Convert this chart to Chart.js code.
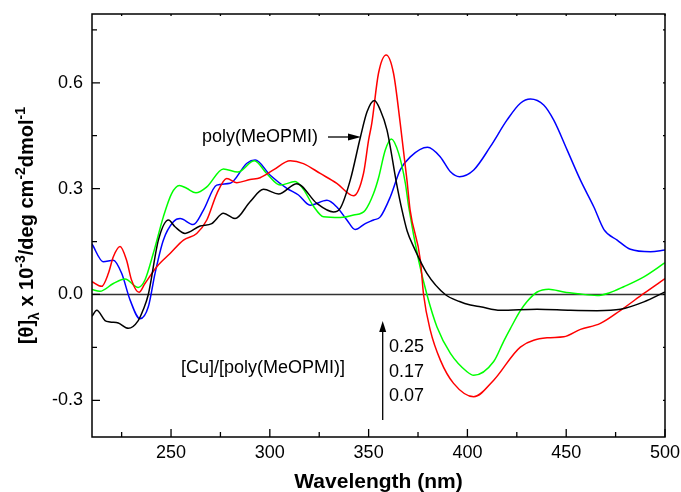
<!DOCTYPE html>
<html>
<head>
<meta charset="utf-8">
<script src="https://cdn.jsdelivr.net/npm/chart.js@4"></script>
<style>
html,body{margin:0;padding:0;background:#fff;}
#wrap{width:681px;height:492px;position:relative;}
</style>
</head>
<body>
<div id="wrap"><canvas id="c" width="681" height="492"></canvas></div>
<script>
// ---- data ----
const xTicks = [250, 300, 350, 400, 450, 500];
const xMinorTicks = [225, 275, 325, 375, 425, 475];
const yTicks = [-0.3, 0.0, 0.3, 0.6];
const yMinorTicks = [-0.15, 0.15, 0.45, 0.75];

const wlBlack = [210, 212.4, 216.6, 219.1, 223.3, 228.4, 233.4, 235.8, 238.5, 243.6, 248.7, 252, 257.1, 264.7, 270.6, 276.5, 282.4, 290, 296.8, 304.4, 313.7, 323.8, 332.2, 335.6, 340.7, 345.8, 349.2, 352.9, 355.9, 359.3, 364.3, 366.9, 369.5, 372.8, 379.5, 388.8, 396, 401.5, 406.6, 416.7, 435.3, 452.2, 465.6, 477.5, 489.3, 500];
const valBlack = [-0.062, -0.045, -0.074, -0.078, -0.081, -0.096, -0.074, -0.045, 0.0, 0.154, 0.211, 0.192, 0.173, 0.194, 0.201, 0.230, 0.215, 0.263, 0.298, 0.285, 0.314, 0.258, 0.234, 0.244, 0.324, 0.445, 0.518, 0.550, 0.523, 0.466, 0.310, 0.239, 0.180, 0.135, 0.060, 0.0, -0.020, -0.030, -0.035, -0.045, -0.042, -0.045, -0.046, -0.042, -0.021, 0.007];

const wlRed = [210, 214.9, 218.3, 220.8, 224.2, 227.5, 230, 233.8, 236.8, 242.7, 249.5, 256.3, 263, 268.1, 273.2, 278.2, 283.3, 290, 295.1, 301.8, 310.3, 317, 325.5, 333.9, 342.4, 347.4, 350, 351.6, 355, 358.9, 362.6, 366, 369.4, 371, 376.2, 377.8, 381.2, 386.3, 393, 403.2, 413.3, 426.8, 440.3, 448.8, 457.2, 467.3, 477.5, 489.3, 500];
const valRed = [0.036, 0.023, 0.060, 0.107, 0.136, 0.097, 0.041, 0.006, 0.031, 0.078, 0.116, 0.154, 0.173, 0.211, 0.286, 0.329, 0.317, 0.326, 0.331, 0.353, 0.379, 0.371, 0.343, 0.315, 0.280, 0.343, 0.438, 0.485, 0.627, 0.679, 0.627, 0.485, 0.324, 0.239, 0.097, 0.0, -0.101, -0.186, -0.252, -0.290, -0.243, -0.149, -0.123, -0.120, -0.099, -0.082, -0.045, 0.003, 0.045];

const wlGreen = [210, 214, 220.8, 226.7, 233.4, 236.8, 241, 246.1, 250.3, 254.2, 257.9, 262.6, 268.1, 276.5, 283.8, 292.2, 298.4, 305.2, 312.8, 317, 322.1, 327.2, 335.6, 342.4, 348.3, 352.5, 355, 358.4, 361.5, 365.2, 368.6, 370.3, 375.3, 379.5, 384.6, 391.4, 399.8, 403.2, 413.3, 418.4, 421.8, 426.8, 430.2, 435.3, 441.2, 448.8, 456, 465.6, 472, 479.1, 489.3, 500];
const valGreen = [0.014, 0.009, 0.031, 0.044, 0.020, 0.041, 0.116, 0.220, 0.286, 0.309, 0.301, 0.288, 0.305, 0.356, 0.347, 0.379, 0.343, 0.310, 0.320, 0.298, 0.250, 0.220, 0.218, 0.225, 0.239, 0.286, 0.330, 0.409, 0.441, 0.400, 0.315, 0.248, 0.097, 0.0, -0.092, -0.167, -0.219, -0.229, -0.190, -0.132, -0.096, -0.046, -0.020, 0.007, 0.015, 0.007, 0.002, -0.003, 0.005, 0.022, 0.050, 0.090];

const wlBlue = [210, 215.7, 220.8, 225, 229.3, 234.3, 238.5, 241.9, 246.1, 251.2, 254.6, 261.2, 266.4, 273.1, 279.9, 288.4, 292.6, 300.2, 308.6, 314.5, 320.4, 328.9, 333.9, 339, 343.2, 348.3, 352.5, 355.9, 361, 366, 371.1, 379.8, 386.3, 391.4, 396, 403.2, 411.6, 420, 426.8, 431.9, 438.6, 443.7, 450.5, 457.2, 464, 469.1, 475.8, 482.5, 492.7, 500];
const valBlue = [0.143, 0.093, 0.097, 0.060, -0.016, -0.069, -0.035, 0.060, 0.154, 0.206, 0.215, 0.198, 0.239, 0.310, 0.315, 0.372, 0.381, 0.338, 0.301, 0.282, 0.253, 0.267, 0.248, 0.211, 0.184, 0.201, 0.211, 0.220, 0.277, 0.353, 0.390, 0.417, 0.390, 0.348, 0.334, 0.353, 0.419, 0.494, 0.542, 0.554, 0.537, 0.494, 0.409, 0.324, 0.248, 0.184, 0.154, 0.128, 0.121, 0.126];

const seriesColors = ['#000000', '#ff0000', '#00ff00', '#0000ff'];

const polyLabel = 'poly(MeOPMI)';
const ratioLabel = '[Cu]/[poly(MeOPMI)]';
const ratioValues = ['0.25', '0.17', '0.07'];
const xTitle = 'Wavelength (nm)';

function pts(xs, ys) { return xs.map((x, i) => ({x: x, y: ys[i]})); }

const FONT = '"Liberation Sans", Arial, Helvetica, sans-serif';

const overlay = {
  id: 'overlay',
  beforeDatasetsDraw(chart) {
    const {ctx, chartArea: a, scales: {y}} = chart;
    const y0 = y.getPixelForValue(0);
    ctx.save();
    ctx.strokeStyle = '#333333';
    ctx.lineWidth = 1.5;
    ctx.beginPath();
    ctx.moveTo(a.left, y0); ctx.lineTo(a.right, y0);
    ctx.stroke();
    ctx.restore();
  },
  afterDatasetsDraw(chart) {
    const {ctx, chartArea: a, scales: {x, y}} = chart;
    ctx.save();
    ctx.strokeStyle = '#000';
    ctx.lineWidth = 1.5;
    ctx.strokeRect(a.left, a.top, a.right - a.left, a.bottom - a.top);
    ctx.lineWidth = 1.3;
    ctx.beginPath();
    const xt = (v, L, l2) => { const p = x.getPixelForValue(v); ctx.moveTo(p, a.bottom); ctx.lineTo(p, a.bottom - L); ctx.moveTo(p, a.top); ctx.lineTo(p, a.top + l2); };
    const yt = (v, L, l2) => { const p = y.getPixelForValue(v); ctx.moveTo(a.left, p); ctx.lineTo(a.left + L, p); ctx.moveTo(a.right, p); ctx.lineTo(a.right - l2, p); };
    xTicks.forEach(v => xt(v, 8, 2));
    xMinorTicks.forEach(v => xt(v, 5, 2));
    yTicks.forEach(v => yt(v, 8, 2));
    yMinorTicks.forEach(v => yt(v, 5, 2));
    ctx.stroke();

    // annotations
    ctx.fillStyle = '#000';
    ctx.font = '18px ' + FONT;
    ctx.textBaseline = 'middle';
    ctx.textAlign = 'left';
    ctx.fillText(polyLabel, 202, 137);
    // horizontal arrow
    ctx.lineWidth = 1.3;
    ctx.beginPath(); ctx.moveTo(328, 137); ctx.lineTo(350, 137); ctx.stroke();
    ctx.beginPath(); ctx.moveTo(361, 137); ctx.lineTo(348, 133.5); ctx.lineTo(348, 140.5); ctx.closePath(); ctx.fill();

    ctx.fillText(ratioLabel, 181, 368);
    // vertical arrow
    ctx.beginPath(); ctx.moveTo(382.7, 420); ctx.lineTo(382.7, 330); ctx.stroke();
    ctx.beginPath(); ctx.moveTo(382.7, 321); ctx.lineTo(379.2, 332); ctx.lineTo(386.2, 332); ctx.closePath(); ctx.fill();
    const ys = [347.5, 372.5, 396.5];
    ratioValues.forEach((t, i) => ctx.fillText(t, 389, ys[i]));

    // x title
    ctx.font = 'bold 21px ' + FONT;
    ctx.textAlign = 'center';
    ctx.textBaseline = 'alphabetic';
    ctx.fillText(xTitle, (a.left + a.right) / 2, 488);

    // y title with sub/superscripts
    const big = 'bold 20px ' + FONT, small = 'bold 14px ' + FONT;
    const parts = [
      {t: '[θ]', f: big, dy: 0},
      {t: 'λ', f: small, dy: 6},
      {t: ' x 10', f: big, dy: 0},
      {t: '-3', f: small, dy: -8},
      {t: '/deg cm', f: big, dy: 0},
      {t: '-2', f: small, dy: -8},
      {t: 'dmol', f: big, dy: 0},
      {t: '-1', f: small, dy: -8}
    ];
    let total = 0;
    parts.forEach(p => { ctx.font = p.f; p.w = ctx.measureText(p.t).width; total += p.w; });
    ctx.translate(33, (a.top + a.bottom) / 2);
    ctx.rotate(-Math.PI / 2);
    ctx.textAlign = 'left';
    let cx = -total / 2;
    parts.forEach(p => { ctx.font = p.f; ctx.fillText(p.t, cx, p.dy); cx += p.w; });
    ctx.restore();
  }
};

const ds = (label, xs, ys, color) => ({
  label: label, data: pts(xs, ys), borderColor: color, backgroundColor: color,
  borderWidth: 1.5, pointRadius: 0, fill: false, cubicInterpolationMode: 'monotone'
});

const zeroPad = s => { s.paddingTop = 0; s.paddingBottom = 0; s.paddingLeft = 0; s.paddingRight = 0; };

new Chart(document.getElementById('c'), {
  type: 'line',
  data: {
    datasets: [
      ds('poly(MeOPMI)', wlBlack, valBlack, seriesColors[0]),
      ds('0.07', wlRed, valRed, seriesColors[1]),
      ds('0.17', wlGreen, valGreen, seriesColors[2]),
      ds('0.25', wlBlue, valBlue, seriesColors[3])
    ]
  },
  options: {
    responsive: false,
    animation: false,
    devicePixelRatio: 1,
    layout: {padding: {left: 0, top: 14, right: 16, bottom: 0}},
    plugins: {legend: {display: false}, tooltip: {enabled: false}},
    scales: {
      x: {
        type: 'linear', min: 210, max: 500,
        afterFit: s => { s.height = 55; zeroPad(s); },
        afterBuildTicks: s => { s.ticks = xTicks.map(v => ({value: v})); },
        grid: {display: false, drawTicks: false},
        border: {display: false},
        ticks: {padding: 5, color: '#000', font: {size: 18, family: FONT}, callback: v => String(v), maxRotation: 0}
      },
      y: {
        type: 'linear', min: -0.404, max: 0.795,
        afterFit: s => { s.width = 92; zeroPad(s); },
        afterBuildTicks: s => { s.ticks = yTicks.map(v => ({value: v})); },
        grid: {display: false, drawTicks: false},
        border: {display: false},
        ticks: {padding: 9, color: '#000', font: {size: 18, family: FONT}, callback: v => Number(v).toFixed(1)}
      }
    }
  },
  plugins: [overlay]
});
</script>
</body>
</html>
